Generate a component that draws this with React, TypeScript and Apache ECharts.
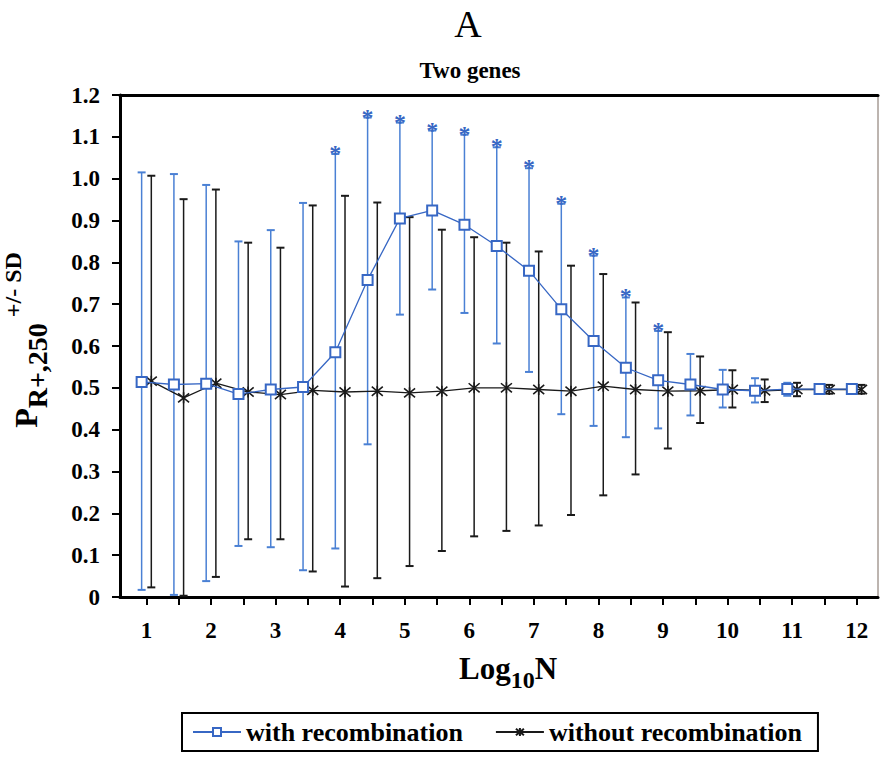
import React, { useEffect, useRef } from 'react';
import * as echarts from 'echarts';

// ---------- data ----------
const log10N = [1, 1.5, 2, 2.5, 3, 3.5, 4, 4.5, 5, 5.5, 6, 6.5, 7, 7.5, 8, 8.5, 9, 9.5, 10, 10.5, 11, 11.5, 12];

const withRecMean = [0.514, 0.508, 0.510, 0.485, 0.496, 0.502, 0.585, 0.758, 0.905, 0.924, 0.890, 0.839, 0.780, 0.688, 0.612, 0.548, 0.518, 0.508, 0.496, 0.493, 0.497, 0.497, 0.497];
const withRecHigh = [1.015, 1.011, 0.985, 0.850, 0.877, 0.942, 1.059, 1.146, 1.134, 1.115, 1.105, 1.075, 1.025, 0.940, 0.816, 0.716, 0.636, 0.581, 0.543, 0.523, 0.512, 0.507, 0.507];
const withRecLow = [0.017, 0.005, 0.038, 0.122, 0.119, 0.064, 0.116, 0.365, 0.675, 0.735, 0.679, 0.606, 0.538, 0.437, 0.409, 0.382, 0.403, 0.434, 0.453, 0.465, 0.481, 0.487, 0.487];
const significant = [0, 0, 0, 0, 0, 0, 1, 1, 1, 1, 1, 1, 1, 1, 1, 1, 1, 0, 0, 0, 0, 0, 0];

const withoutRecMean = [0.516, 0.476, 0.511, 0.490, 0.484, 0.494, 0.490, 0.492, 0.488, 0.492, 0.500, 0.500, 0.496, 0.492, 0.504, 0.496, 0.492, 0.493, 0.496, 0.493, 0.496, 0.496, 0.496];
const withoutRecHigh = [1.007, 0.951, 0.974, 0.847, 0.835, 0.936, 0.959, 0.943, 0.908, 0.878, 0.860, 0.847, 0.826, 0.792, 0.772, 0.704, 0.633, 0.575, 0.542, 0.520, 0.512, 0.507, 0.507];
const withoutRecLow = [0.023, 0.003, 0.048, 0.138, 0.138, 0.061, 0.025, 0.045, 0.074, 0.110, 0.145, 0.158, 0.171, 0.196, 0.243, 0.293, 0.355, 0.416, 0.453, 0.466, 0.480, 0.486, 0.486];

const seriesNames = ['with recombination', 'without recombination'];
const titleText = 'A';
const subtitleText = 'Two genes';

// ---------- styling ----------
const FONT = "'Liberation Serif', 'Times New Roman', serif";
const BLUE = '#3767c4';
const BLUE_BAR = '#4a80d4';
const BLACK = '#1a1a1a';
const OFFSET = 0.075;

const asteriskPath = 'path://M0,0L10,10M10,0L0,10M5,-1L5,11';

function errorRenderer(color: string) {
  return (params: any, api: any) => {
    const x = api.value(0);
    const lo = api.value(1);
    const hi = api.value(2);
    const sig = api.value(3);
    const top = api.coord([x, hi]);
    const bot = api.coord([x, lo]);
    const half = 4;
    const children: any[] = [
      { type: 'line', shape: { x1: top[0], y1: top[1], x2: bot[0], y2: bot[1] }, style: { stroke: color, lineWidth: 1.5 } },
      { type: 'line', shape: { x1: top[0] - half, y1: top[1], x2: top[0] + half, y2: top[1] }, style: { stroke: color, lineWidth: 2 } },
      { type: 'line', shape: { x1: bot[0] - half, y1: bot[1], x2: bot[0] + half, y2: bot[1] }, style: { stroke: color, lineWidth: 2 } },
    ];
    if (sig) {
      children.push({
        type: 'text',
        x: top[0],
        y: top[1] - 1,
        style: { text: '*', fill: BLUE, font: `bold 24px ${FONT}`, align: 'center', verticalAlign: 'middle' },
      });
    }
    return { type: 'group', children };
  };
}

export default function App() {
  const ref = useRef<HTMLDivElement>(null);

  useEffect(() => {
    if (!ref.current) return;
    const chart = echarts.init(ref.current, undefined, { renderer: 'svg' });

    const blueLine = log10N.map((x, i) => [x - OFFSET, withRecMean[i]]);
    const blackLine = log10N.map((x, i) => [x + OFFSET, withoutRecMean[i]]);
    const blueErr = log10N.map((x, i) => [x - OFFSET, withRecLow[i], withRecHigh[i], significant[i]]);
    const blackErr = log10N.map((x, i) => [x + OFFSET, withoutRecLow[i], withoutRecHigh[i], 0]);

    const option: any = {
      animation: false,
      backgroundColor: '#ffffff',
      grid: {
        left: 120,
        top: 95,
        right: 2,
        bottom: 163,
        show: true,
        borderColor: '#7a6a60',
        borderWidth: 1,
      },
      xAxis: [
        {
          type: 'value',
          min: 0.59,
          max: 12.33,
          splitNumber: 23,
          minInterval: 0.5,
          maxInterval: 0.5,
          position: 'bottom',
          axisLine: { show: true, onZero: false, lineStyle: { color: '#000', width: 3 } },
          axisTick: { show: true, inside: false, length: 8, lineStyle: { color: '#000', width: 2 } },
          axisLabel: {
            show: true,
            margin: 22,
            color: '#000',
            fontFamily: FONT,
            fontWeight: 'bold',
            fontSize: 23,
            showMinLabel: false,
            showMaxLabel: false,
            formatter: (v: number) => (Number.isInteger(v) ? String(v) : ''),
          },
          splitLine: { show: false },
        },
        {
          type: 'value',
          min: 0.59,
          max: 12.33,
          position: 'top',
          axisLine: { show: true, onZero: false, lineStyle: { color: '#000', width: 3 } },
          axisTick: { show: false },
          axisLabel: { show: false },
          splitLine: { show: false },
        },
      ],
      yAxis: {
        type: 'value',
        min: 0,
        max: 1.2,
        interval: 0.1,
        axisLine: { show: true, onZero: false, lineStyle: { color: '#000', width: 3 } },
        axisTick: { show: true, inside: false, length: 8, lineStyle: { color: '#000', width: 2 } },
        axisLabel: {
          margin: 20,
          color: '#000',
          fontFamily: FONT,
          fontWeight: 'bold',
          fontSize: 23,
          formatter: (v: number) => (v === 0 ? '0' : v.toFixed(1)),
        },
        splitLine: { show: false },
      },
      legend: {
        show: true,
        left: 182,
        top: 713,
        orient: 'horizontal',
        padding: [6, 16, 6, 10],
        itemGap: 32,
        itemWidth: 48,
        itemHeight: 10,
        borderColor: '#000',
        borderWidth: 2,
        borderRadius: 0,
        data: seriesNames,
        textStyle: { color: '#000', fontFamily: FONT, fontWeight: 'bold', fontSize: 26 },
      },
      graphic: [
        {
          type: 'text',
          x: 468,
          y: 24,
          style: { text: titleText, fill: '#000', font: `normal 38px ${FONT}`, align: 'center', verticalAlign: 'middle' },
        },
        {
          type: 'text',
          x: 470,
          y: 70,
          style: { text: subtitleText, fill: '#000', font: `bold 23px ${FONT}`, align: 'center', verticalAlign: 'middle' },
        },
        {
          type: 'text',
          x: 508,
          y: 668,
          style: {
            text: '{b|Log}{s|10}{b|N}',
            align: 'center',
            verticalAlign: 'middle',
            rich: {
              b: { fontFamily: FONT, fontWeight: 'bold', fontSize: 31, fill: '#000', color: '#000', lineHeight: 48, verticalAlign: 'middle' },
              s: { fontFamily: FONT, fontWeight: 'bold', fontSize: 24, fill: '#000', color: '#000', lineHeight: 20, verticalAlign: 'bottom' },
            },
          },
        },
        {
          type: 'text',
          x: 26,
          y: 340,
          rotation: Math.PI / 2,
          style: {
            text: '{p|P}{sub|R+,250}{sup| +/- SD}',
            align: 'center',
            verticalAlign: 'middle',
            rich: {
              p: { fontFamily: FONT, fontWeight: 'bold', fontSize: 32, fill: '#000', color: '#000', lineHeight: 50, verticalAlign: 'middle' },
              sub: { fontFamily: FONT, fontWeight: 'bold', fontSize: 28, fill: '#000', color: '#000', lineHeight: 22, verticalAlign: 'bottom' },
              sup: { fontFamily: FONT, fontWeight: 'bold', fontSize: 24, fill: '#000', color: '#000', lineHeight: 46, verticalAlign: 'top' },
            },
          },
        },
      ],
      series: [
        {
          type: 'custom',
          name: 'errWith',
          xAxisIndex: 0,
          renderItem: errorRenderer(BLUE_BAR),
          data: blueErr,
          encode: { x: 0, y: [1, 2] },
          clip: false,
          z: 1,
          silent: true,
        },
        {
          type: 'custom',
          name: 'errWithout',
          xAxisIndex: 0,
          renderItem: errorRenderer(BLACK),
          data: blackErr,
          encode: { x: 0, y: [1, 2] },
          clip: false,
          z: 1,
          silent: true,
        },
        {
          type: 'line',
          name: seriesNames[1],
          xAxisIndex: 0,
          data: blackLine,
          symbol: asteriskPath,
          symbolSize: 11,
          showAllSymbol: true,
          lineStyle: { color: BLACK, width: 1.3 },
          itemStyle: { color: BLACK, borderColor: BLACK, borderWidth: 1.6 },
          z: 3,
        },
        {
          type: 'line',
          name: seriesNames[0],
          xAxisIndex: 0,
          data: blueLine,
          symbol: 'rect',
          symbolSize: 10,
          showAllSymbol: true,
          lineStyle: { color: BLUE, width: 1.3 },
          itemStyle: { color: '#ffffff', borderColor: BLUE, borderWidth: 2 },
          z: 4,
        },
      ],
    };

    chart.setOption(option);
    return () => chart.dispose();
  }, []);

  return (
    <div
      ref={ref}
      style={{ position: 'fixed', left: 0, top: 0, width: 880, height: 760, background: '#fff' }}
    />
  );
}
